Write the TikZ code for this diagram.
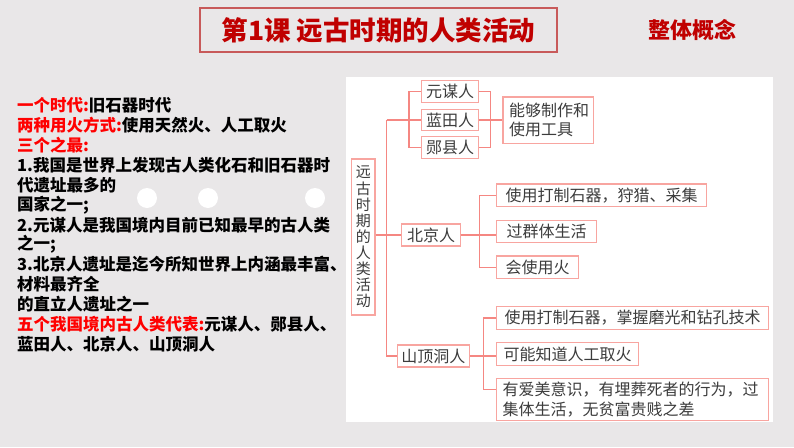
\documentclass[tikz,border=0pt]{standalone}
\usepackage{fontspec}
\newfontfamily\cjk{Noto Sans CJK SC}
\definecolor{bgc}{RGB}{233,231,232}
\definecolor{titlec}{RGB}{192,0,0}
\definecolor{titleb}{RGB}{200,90,90}
\definecolor{boxc}{RGB}{248,165,160}
\definecolor{linec}{RGB}{245,135,130}
\definecolor{txtc}{RGB}{60,60,60}
\definecolor{labc}{RGB}{255,0,0}
\tikzset{
  mbox/.style={draw=boxc, line width=1.3pt, fill=white, text=txtc, inner sep=0pt,
    font=\cjk\fontsize{16}{19}\selectfont},
  link/.style={draw=linec, line width=1.3pt},
  lline/.style={anchor=west, inner sep=0pt, text=black, font=\cjk\bfseries\fontsize{16.5}{20}\selectfont},
}
\begin{document}
\begin{tikzpicture}[x=1pt,y=-1pt]
\fill[bgc] (0,0) rectangle (794,447);
\useasboundingbox (0,0) rectangle (794,447);
% title
\node[draw=titleb, line width=1.2pt, fill=bgc, minimum width=357pt, minimum height=44pt, inner sep=0pt,
  text=titlec, font=\cjk\bfseries\fontsize{26.5}{28}\selectfont] (title) at (378.5,30) {第1课 远古时期的人类活动};
\node[text=titlec, inner sep=0pt, font=\cjk\bfseries\fontsize{22}{26}\selectfont] (zhengti) at (692,30) {整体概念};
% left text
\node[lline] (l1) at (17,105) {{\color{labc}一个时代:}旧石器时代};
\node[lline] (l2) at (17,125) {{\color{labc}两种用火方式:}使用天然火、人工取火};
\node[lline] (l3) at (17,145) {{\color{labc}三个之最:}};
\node[lline] (l4) at (17,165) {1.我国是世界上发现古人类化石和旧石器时};
\node[lline] (l5) at (17,185) {代遗址最多的};
\node[lline] (l6) at (17,205) {国家之一;};
\node[lline] (l7) at (17,225) {2.元谋人是我国境内目前已知最早的古人类};
\node[lline] (l8) at (17,244) {之一;};
\node[lline] (l9) at (17,264) {3.北京人遗址是迄今所知世界上内涵最丰富、};
\node[lline] (l10) at (17,284) {材料最齐全};
\node[lline] (l11) at (17,304) {的直立人遗址之一};
\node[lline] (l12) at (17,324) {{\color{labc}五个我国境内古人类代表:}元谋人、郧县人、};
\node[lline] (l13) at (17,344) {蓝田人、北京人、山顶洞人};
\fill[white] (147,198) circle (10pt);
\fill[white] (208,198) circle (10pt);
\fill[white] (315,198) circle (10pt);
% panel
\fill[white] (346,77) rectangle (773,422);
% root
\node[mbox, minimum width=23.3pt, minimum height=156pt, align=center,
  font=\cjk\fontsize{15}{16.1}\selectfont] (root) at (363.3,237)
  {远\\古\\时\\期\\的\\人\\类\\活\\动};
% first group
\node[mbox, minimum width=56.6pt, minimum height=21.6pt] (yuanmou) at (450,91.5) {元谋人};
\node[mbox, minimum width=56.6pt, minimum height=21.6pt] (lantian) at (450,120) {蓝田人};
\node[mbox, minimum width=56.6pt, minimum height=22pt] (yunxian) at (450,147.3) {郧县人};
\node[mbox, minimum height=46.3pt, inner xsep=6pt, text width=78.3pt, align=left] (neng) at (548.2,120) {能够制作和\\使用工具};
% beijing
\node[mbox, minimum width=59pt, minimum height=22pt] (beijing) at (431.2,235) {北京人};
\node[mbox, minimum width=210pt, minimum height=22.7pt] (bj1) at (601.7,195.3) {使用打制石器，狩猎、采集};
\node[mbox, minimum width=100pt, minimum height=22pt] (bj2) at (546.7,231.7) {过群体生活};
\node[mbox, minimum width=81.6pt, minimum height=22.7pt] (bj3) at (537.5,267.3) {会使用火};
% shanding
\node[mbox, minimum width=72pt, minimum height=22pt] (shanding) at (433.3,356) {山顶洞人};
\node[mbox, minimum width=271.6pt, minimum height=22.6pt] (sd1) at (632.5,318) {使用打制石器，掌握磨光和钻孔技术};
\node[mbox, minimum width=141.6pt, minimum height=23pt] (sd2) at (567.5,354.2) {可能知道人工取火};
\node[mbox, minimum height=42.4pt, inner xsep=6pt, text width=259.6pt, align=left,
  font=\cjk\fontsize{16}{20}\selectfont] (sd3) at (632.5,399.5) {有爱美意识，有埋葬死者的行为，过\\集体生活，无贫富贵贱之差};
% connectors
\coordinate (mtop) at (386.7,120);
\coordinate (lbot) at (409,147.3);
\coordinate (rbot) at (490.3,147.3);
\coordinate (bbot) at (479.3,267.3);
\coordinate (sbot) at (483.3,389.3);
\draw[link] (mtop) |- (shanding.west);
\draw[link] (mtop) -- (lantian.west);
\draw[link] (yuanmou.west) -| (lbot) -- (yunxian.west);
\draw[link] (yuanmou.east) -| (rbot) -- (yunxian.east);
\draw[link] (lantian.east) -- (neng.west);
\draw[link] (root.east |- beijing.west) -- (beijing.west);
\draw[link] (beijing.east) -- (bj2.west |- beijing.east);
\draw[link] (bj1.west) -| (bbot) -- (bj3.west);
\draw[link] (shanding.east) -- (sd2.west |- shanding.east);
\draw[link] (sd1.west) -| (sbot) -- (sbot -| sd3.west);
\end{tikzpicture}
\end{document}
